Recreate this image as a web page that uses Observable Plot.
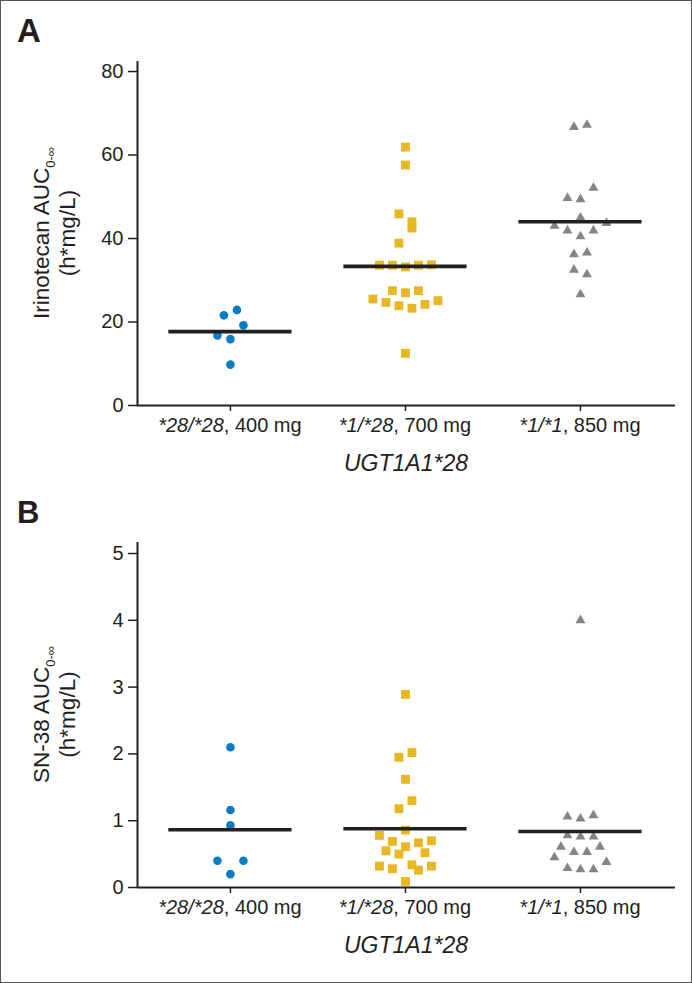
<!DOCTYPE html>
<html>
<head>
<meta charset="utf-8">
<script src="https://cdn.jsdelivr.net/npm/d3@7"></script>
<script src="https://cdn.jsdelivr.net/npm/@observablehq/plot@0.6"></script>
<style>
  body { margin: 0; background: #fff; }
  #fig { width: 692px; height: 983px; position: relative; overflow: hidden; background: #fff; }
  #fig::after { content: ""; position: absolute; left: 0; top: 0; right: 0; bottom: 0; border: 1px solid #555; pointer-events: none; }
  #fig svg { display: block; }
</style>
</head>
<body>
<div id="fig"></div>
<script>
// ---------- data ----------
const genotypes = ["*28/*28", "*1/*28", "*1/*1"];
const doses = [", 400 mg", ", 700 mg", ", 850 mg"];
const xTitle = "UGT1A1*28";
const yTicksA = [0, 20, 40, 60, 80];
const yTicksB = [0, 1, 2, 3, 4, 5];

// Panel A: irinotecan AUC0-inf (h*mg/L); "col" = swarm column of each point (in point widths)
const irinoHom = [22.9, 21.6, 19.2, 16.8, 15.9, 9.8];
const irinoHomCol = [0.5, -0.5, 1, -1, 0, 0];
const irinoHet = [61.9, 57.6, 45.9, 44.0, 42.5, 38.9, 33.6, 33.6, 33.2, 33.6, 33.7, 27.5, 27.0, 27.5, 25.5, 24.7, 23.9, 23.3, 24.2, 25.1, 12.5];
const irinoHetCol = [0, 0, -0.5, 0.5, 0.5, -0.5, -2, -1, 0, 1, 2, -1, 0, 1, -2.5, -1.5, -0.5, 0.5, 1.5, 2.5, 0];
const irinoWt = [66.7, 67.2, 52.1, 49.7, 49.4, 45.0, 43.0, 43.7, 41.9, 41.9, 40.5, 36.2, 36.6, 32.5, 31.4, 26.6];
const irinoWtCol = [-0.5, 0.5, 1, -1, 0, 0, -2, 2, -1, 1, 0, -0.5, 0.5, -0.5, 0.5, 0];

// Panel B: SN-38 AUC0-inf (h*mg/L)
const sn38Hom = [2.1, 1.16, 0.93, 0.40, 0.40, 0.20];
const sn38HomCol = [0, 0, 0, -1, 1, 0];
const sn38Het = [2.89, 1.95, 2.02, 1.62, 1.30, 1.18, 0.86, 0.78, 0.69, 0.67, 0.70, 0.61, 0.55, 0.50, 0.52, 0.32, 0.28, 0.34, 0.26, 0.32, 0.09];
const sn38HetCol = [0, -0.5, 0.5, 0, 0.5, -0.5, 0, -2, -1, 1, 2, 0, -1.5, -0.5, 1.5, -2, -1, 0.5, 1, 2, 0];
const sn38Wt = [4.0, 1.06, 1.03, 1.08, 0.78, 0.76, 0.76, 0.61, 0.61, 0.53, 0.53, 0.45, 0.38, 0.29, 0.27, 0.27];
const sn38WtCol = [0, -1, 0, 1, -1, 0, 1, -1.5, 1.5, -0.5, 0.5, -2, 2, -1, 0, 1];

// ---------- styling ----------
const FONT = "'Liberation Sans', Arial, Helvetica, sans-serif";
const INK = "#231f20";
const colors = ["#0a7cc4", "#e7b824", "#858585"];
const symbols = ["circle", "square", "triangle"];
const radii = [4.3, 5.0, 3.7];
const XDOM = [-0.531, 2.543];
const COL = 0.0743;      // one swarm column in x units
const HALF = 0.352;      // half length of the mean line in x units

function makePanel(cfg) {
  const rows = [];
  cfg.values.forEach((vals, g) => vals.forEach((v, k) => rows.push({g, v, x: g + cfg.cols[g][k] * COL})));
  const means = cfg.values.map((vals, g) => ({g, m: d3.mean(vals)}));

  const plot = Plot.plot({
    width: 692,
    height: cfg.height,
    marginLeft: 137,
    marginRight: 17,
    marginTop: cfg.mt,
    marginBottom: cfg.mb,
    style: {fontFamily: FONT, fontSize: "20px", color: INK, background: "transparent", overflow: "visible"},
    x: {type: "linear", domain: XDOM},
    y: {domain: cfg.yDomain},
    marks: [
      Plot.axisY({ticks: cfg.yTicks, tickFormat: d => String(d), tickSize: 9, tickPadding: 5, label: null, fontSize: 20, strokeWidth: 1.5}),
      Plot.axisX({ticks: [0, 1, 2], tickSize: 6, tickFormat: () => "", label: null, strokeWidth: 1.5}),
      Plot.ruleY([cfg.yDomain[0]], {stroke: INK, strokeWidth: 2}),
      Plot.ruleX([XDOM[0]], {stroke: INK, strokeWidth: 2}),
      ...[0, 1, 2].map(g => Plot.dot(rows.filter(d => d.g === g), {
        x: "x", y: "v", symbol: symbols[g], r: radii[g], fill: colors[g], stroke: "none"
      })),
      Plot.ruleY(means, {y: "m", x1: d => d.g - HALF, x2: d => d.g + HALF, stroke: INK, strokeWidth: 3.6})
    ]
  });

  const svg = d3.select(plot);
  const xs = plot.scale("x");
  const ys = plot.scale("y");
  const yMid = (ys.apply(cfg.yDomain[0]) + ys.apply(cfg.yDomain[1])) / 2;
  const xMid = (xs.apply(XDOM[0]) + xs.apply(XDOM[1])) / 2;
  const yBase = ys.apply(cfg.yDomain[0]);

  // panel letter
  svg.append("text").attr("x", 17).attr("y", cfg.letterY).attr("text-anchor", "start")
    .attr("font-family", FONT).attr("font-weight", "bold").attr("font-size", cfg.letterSize)
    .attr("fill", INK).text(cfg.letter);

  // y title (rotated, with subscript)
  const gt = svg.append("g").attr("transform", `translate(49,${yMid}) rotate(-90)`)
    .attr("font-family", FONT).attr("fill", INK).attr("text-anchor", "middle");
  const t1 = gt.append("text").attr("y", 0).attr("font-size", 22.5);
  t1.append("tspan").text(cfg.titleMain);
  t1.append("tspan").attr("font-size", 13).attr("dy", 6).text("0-\u221e");
  gt.append("text").attr("y", 26).attr("font-size", 22.5).text("(h*mg/L)");

  // category labels
  genotypes.forEach((g, i) => {
    const t = svg.append("text").attr("x", xs.apply(i)).attr("y", yBase + 27)
      .attr("font-family", FONT).attr("font-size", 20).attr("fill", INK).attr("text-anchor", "middle");
    t.append("tspan").attr("font-style", "italic").text(g);
    t.append("tspan").text(doses[i]);
  });

  // x title
  svg.append("text").attr("x", xMid).attr("y", yBase + 66)
    .attr("font-family", FONT).attr("font-size", 23).attr("font-style", "italic")
    .attr("fill", INK).attr("text-anchor", "middle").text(xTitle);

  return plot;
}

const fig = document.getElementById("fig");
fig.append(makePanel({
  values: [irinoHom, irinoHet, irinoWt],
  cols: [irinoHomCol, irinoHetCol, irinoWtCol],
  yDomain: [0, 82.4], yTicks: yTicksA,
  height: 480, mt: 61, mb: 75,
  letter: "A", letterY: 42, letterSize: 33,
  titleMain: "Irinotecan AUC"
}));
fig.append(makePanel({
  values: [sn38Hom, sn38Het, sn38Wt],
  cols: [sn38HomCol, sn38HetCol, sn38WtCol],
  yDomain: [0, 5.165], yTicks: yTicksB,
  height: 503, mt: 62, mb: 96,
  letter: "B", letterY: 43, letterSize: 31,
  titleMain: "SN-38 AUC"
}));
</script>
</body>
</html>
